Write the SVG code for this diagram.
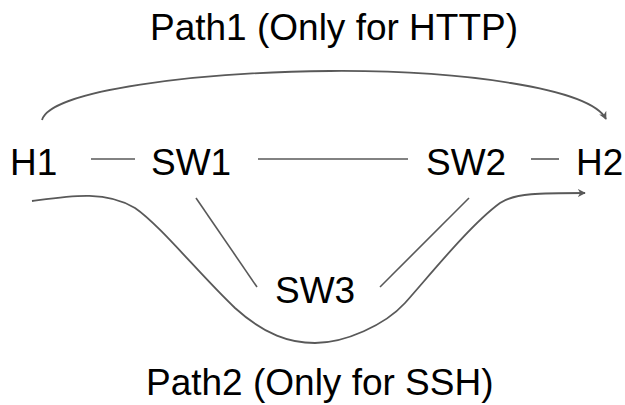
<svg xmlns="http://www.w3.org/2000/svg" width="625" height="405" viewBox="0 0 625 405">
  <style>
    text { font-family: "Liberation Sans", Arial, sans-serif; font-size: 37px; fill: #000; }
    .link { stroke: #595959; stroke-width: 1.6; fill: none; }
    .path { stroke: #595959; stroke-width: 1.8; fill: none; marker-end: url(#arrow); }
  </style>
  <defs>
    <marker id="arrow" viewBox="0 0 10 10" refX="9" refY="5" markerWidth="8" markerHeight="8" markerUnits="userSpaceOnUse" orient="auto">
      <path d="M0,0 L10,5 L0,10 L3,5 Z" fill="#595959"/>
    </marker>
  </defs>

  <!-- route labels -->
  <text x="150" y="40">Path1 (Only for HTTP)</text>
  <text x="146" y="395">Path2 (Only for SSH)</text>

  <!-- links between devices and the two routes -->
  <g id="connectors">
    <line class="link" x1="91" y1="159" x2="135" y2="159"/>
    <line class="link" x1="258" y1="159" x2="408" y2="159"/>
    <line class="link" x1="531" y1="159" x2="559" y2="159"/>
    <line class="link" x1="196" y1="198" x2="257" y2="287"/>
    <line class="link" x1="469" y1="198" x2="380" y2="287"/>
    <path class="path" d="M42,120 C50,90 200,72 330,71 C460,70 590,88 606,119"/>
    <path class="path" d="M32,201 C70,196 105,190 135,208 C160,225 200,275 235,308 C265,335 290,343 315,343 C345,343 385,325 405,303 C430,275 470,225 500,203 C515,193 540,193 585,193"/>
  </g>

  <g id="H1"><text x="10" y="175">H1</text></g>
  <g id="SW1"><text x="151" y="175">SW1</text></g>
  <g id="SW2"><text x="426" y="175">SW2</text></g>
  <g id="H2"><text x="576" y="175">H2</text></g>
  <g id="SW3"><text x="275" y="303">SW3</text></g>
</svg>
